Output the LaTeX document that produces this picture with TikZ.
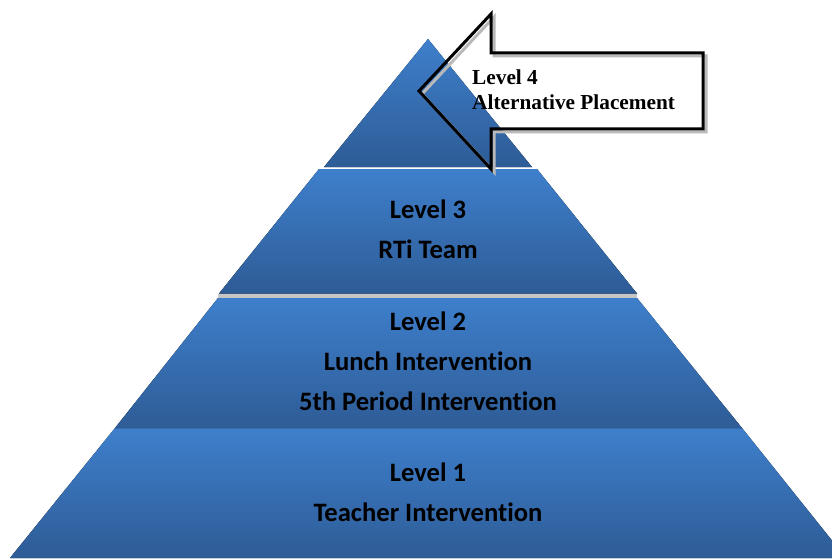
\documentclass[tikz,border=0pt]{standalone}
\usepackage{fontspec}
\setmainfont{Liberation Serif}
\newfontfamily\calfont[Ligatures=NoCommon]{Carlito}
\begin{document}
\begin{tikzpicture}[x=1pt,y=-1pt]
\definecolor{bandtop}{RGB}{62,127,204}
\definecolor{bandbot}{RGB}{46,92,150}
\tikzset{
  band/.style={top color=bandtop,bottom color=bandbot,draw=none},
  lvl/.style={anchor=base,inner sep=0pt,font=\calfont\bfseries\fontsize{26.6}{30}\selectfont,text=black},
  arrowline/.style={line width=3pt,line join=miter,miter limit=10},
  lfour/.style={anchor=base west,inner sep=0pt,font=\bfseries\fontsize{21.3}{24}\selectfont,text=black}
}
\useasboundingbox (0,0) rectangle (832,559);
\begin{scope}
\clip (0,0) rectangle (832,559);
% bands
\fill[band] (115,428) -- (742,428) -- (846,558) -- (10,558) -- cycle;
\fill[band] (218,298) -- (637,298) -- (742,428) -- (115,428) -- cycle;
\fill[gray!45] (218,294) -- (637,294) -- (637,298) -- (218,298) -- cycle;
\fill[band] (319,169) -- (537,169) -- (637,293.5) -- (219,293.5) -- cycle;
\fill[band] (428,39) -- (532,167) -- (324,167) -- cycle;
\end{scope}
% texts
\node[lvl] (l3a) at (428,218) {Level 3};
\node[lvl] (l3b) at (428,258) {RTi Team};
\node[lvl] (l2a) at (428,330) {Level 2};
\node[lvl] (l2b) at (428,370.5) {Lunch Intervention};
\node[lvl] (l2c) at (428,410.5) {5th Period Intervention};
\node[lvl] (l1a) at (428,481) {Level 1};
\node[lvl] (l1b) at (428,521) {Teacher Intervention};
% arrow shadow and arrow
\draw[arrowline,gray!55,shift={(3,3)}] (419,91) -- (491,14) -- (491,53) -- (703,53) -- (703,129) -- (491,129) -- (491,169) -- cycle;
\draw[arrowline,black] (419,91) -- (491,14) -- (491,53) -- (703,53) -- (703,129) -- (491,129) -- (491,169) -- cycle;
\node[lfour] (l4a) at (472,84.5) {Level 4};
\node[lfour] (l4b) at (472,110) {Alternative Placement};
\end{tikzpicture}
\end{document}
